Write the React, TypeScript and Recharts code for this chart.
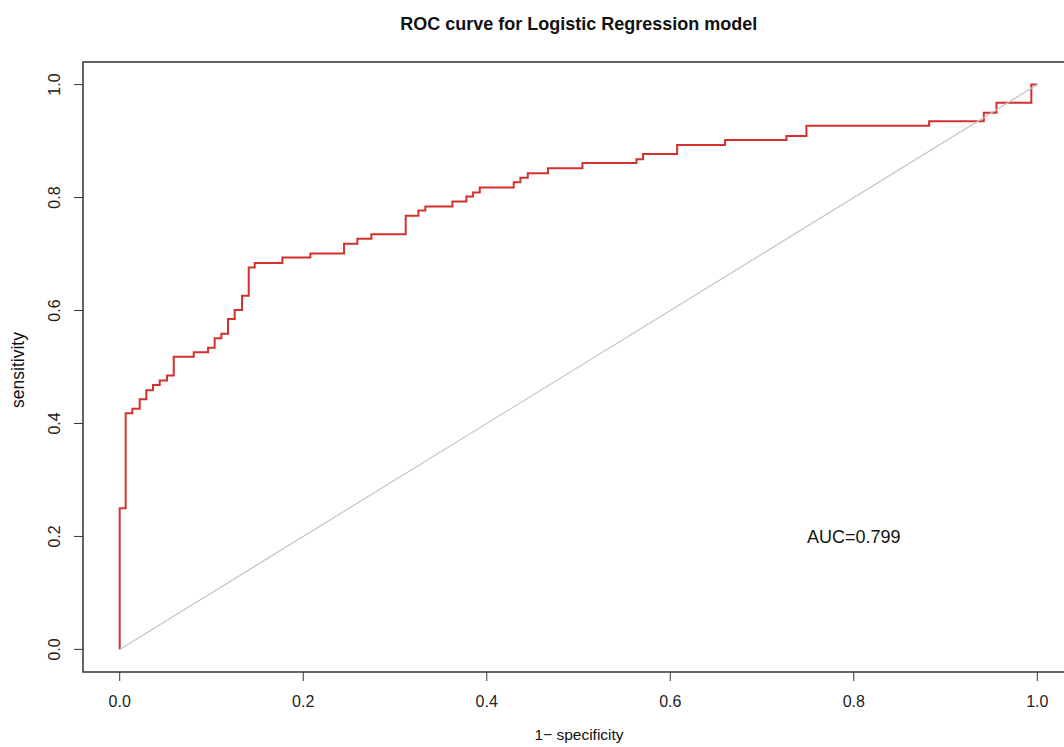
import React from 'react';
import { LineChart, Line, XAxis, YAxis, ReferenceArea, ReferenceDot } from 'recharts';

const fpr = [0, 0, 0.0065, 0.0138, 0.0218, 0.029, 0.0363, 0.0436, 0.0516, 0.0589, 0.0807, 0.0963, 0.1035, 0.1108, 0.118, 0.1253, 0.1333, 0.1406, 0.1471, 0.1773, 0.2078, 0.2445, 0.259, 0.2743, 0.3117, 0.3255, 0.3331, 0.3626, 0.3778, 0.3851, 0.3924, 0.4294, 0.4367, 0.4447, 0.4668, 0.5043, 0.5631, 0.5704, 0.6075, 0.6597, 0.7266, 0.7484, 0.8821, 0.9417, 0.9555, 0.9935, 1.0];
const tpr = [0, 0.25, 0.418, 0.426, 0.443, 0.459, 0.468, 0.476, 0.485, 0.518, 0.526, 0.534, 0.551, 0.559, 0.585, 0.601, 0.626, 0.676, 0.684, 0.694, 0.701, 0.718, 0.727, 0.735, 0.768, 0.777, 0.784, 0.793, 0.802, 0.809, 0.818, 0.827, 0.835, 0.843, 0.852, 0.861, 0.868, 0.877, 0.893, 0.902, 0.909, 0.927, 0.935, 0.95, 0.968, 1.0, 1.0];
const diagX = [0, 1];
const diagY = [0, 1];
const axisTicks = [0, 0.2, 0.4, 0.6, 0.8, 1.0];
const titleText = 'ROC curve for Logistic Regression model';
const xLabel = '1\u2212 specificity';
const yLabel = 'sensitivity';
const aucText = 'AUC=0.799';
const aucPos = { x: 0.8, y: 0.2 };

const rocData = fpr.map((x, i) => ({ x, y: tpr[i] }));
const diagData = diagX.map((x, i) => ({ x, y: diagY[i] }));

const FONT = '"Liberation Sans", Arial, Helvetica, sans-serif';

const YTick = (props: any) => {
  const { x, y, payload } = props;
  const cx = x - 19;
  return (
    <text
      x={cx}
      y={y}
      transform={`rotate(-90, ${cx}, ${y})`}
      textAnchor="middle"
      dominantBaseline="central"
      fontSize={16}
      fontFamily={FONT}
      fill="#222"
    >
      {Number(payload.value).toFixed(1)}
    </text>
  );
};

export default function App() {
  return (
    <div style={{ position: 'absolute', left: 0, top: 0, width: 1064, height: 747, overflow: 'hidden', background: '#fff' }}>
      <LineChart
        width={1100}
        height={747}
        data={rocData}
        margin={{ top: 62, right: 26, bottom: 0, left: 0 }}
        style={{ fontFamily: FONT }}
      >
        <XAxis
          type="number"
          dataKey="x"
          domain={[-0.04, 1.04]}
          ticks={axisTicks}
          tickFormatter={(v: number) => v.toFixed(1)}
          height={75}
          tickSize={9}
          tickMargin={15}
          axisLine={false}
          tickLine={{ stroke: '#333', strokeWidth: 1 }}
          tick={{ fontSize: 16, fill: '#222', fontFamily: FONT }}
          allowDataOverflow
        />
        <YAxis
          type="number"
          dataKey="y"
          domain={[-0.04, 1.04]}
          ticks={axisTicks}
          width={83}
          tickSize={9}
          tickMargin={0}
          axisLine={false}
          tickLine={{ stroke: '#333', strokeWidth: 1 }}
          tick={<YTick />}
          allowDataOverflow
        />
        <ReferenceArea
          x1={-0.04}
          x2={1.04}
          y1={-0.04}
          y2={1.04}
          fill="none"
          fillOpacity={0}
          stroke="#333"
          strokeWidth={1.5}
          ifOverflow="visible"
        />
        <Line
          data={rocData}
          dataKey="y"
          type="stepAfter"
          stroke="#d4302e"
          strokeWidth={2}
          dot={false}
          isAnimationActive={false}
        />
        <Line
          data={diagData}
          dataKey="y"
          type="linear"
          stroke="#c4c4c4"
          strokeWidth={1.2}
          dot={false}
          isAnimationActive={false}
        />
        <ReferenceDot
          x={aucPos.x}
          y={aucPos.y}
          r={0}
          fill="none"
          stroke="none"
          label={{ value: aucText, position: 'center', fontSize: 18, fill: '#111', fontFamily: FONT }}
        />
      </LineChart>
      <svg
        width={1064}
        height={747}
        style={{ position: 'absolute', left: 0, top: 0, pointerEvents: 'none' }}
      >
        <text x={578.7} y={24} textAnchor="middle" dominantBaseline="central" fontSize={18} fontWeight="bold" fontFamily={FONT} fill="#111">
          {titleText}
        </text>
        <text x={579} y={740} textAnchor="middle" fontSize={15.5} fontFamily={FONT} fill="#111">
          {xLabel}
        </text>
        <text x={18} y={370} transform="rotate(-90, 18, 370)" textAnchor="middle" dominantBaseline="central" fontSize={17.5} fontFamily={FONT} fill="#111">
          {yLabel}
        </text>
      </svg>
    </div>
  );
}
